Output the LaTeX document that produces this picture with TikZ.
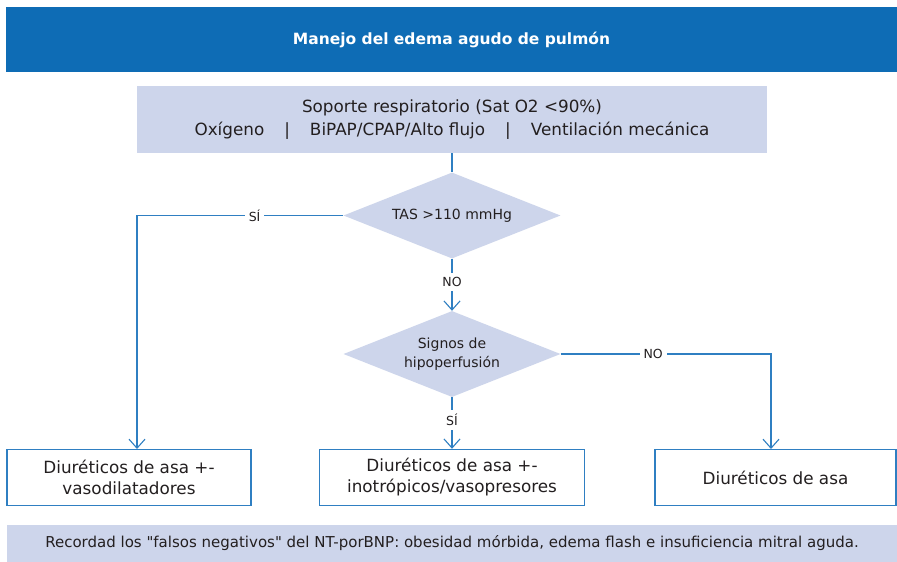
\documentclass[tikz,border=0pt]{standalone}
\usepackage{fontspec}
\setmainfont{DejaVu Sans}[Ligatures=TeXOff]
\usetikzlibrary{shapes.geometric,arrows.meta}
\definecolor{titleblue}{HTML}{0E6CB5}
\definecolor{lav}{HTML}{CDD5EB}
\definecolor{lineblue}{HTML}{2F7FC2}
\definecolor{txt}{HTML}{231F20}
\tikzset{
  titlebox/.style={rectangle, fill=titleblue, text=white, inner sep=0pt, font=\fontsize{15.5}{18}\selectfont\bfseries},
  lavbox/.style={rectangle, fill=lav, text=txt, inner sep=0pt, align=center},
  decision/.style={diamond, aspect=2.52, fill=lav, text=txt, inner sep=0pt, minimum width=217pt, minimum height=86pt, align=center, font=\fontsize{14}{19.5}\selectfont},
  endbox/.style={rectangle, draw=lineblue, line width=1.4pt, fill=white, text=txt, inner sep=0pt, align=center, minimum height=56pt, font=\fontsize{16.8}{21}\selectfont},
  conn/.style={draw=lineblue, line width=1.3pt},
  arr/.style={conn, -{Straight Barb[length=9pt, width=16pt, line width=1.1pt]}},
  lbl/.style={fill=white, text=txt, inner sep=4pt, font=\fontsize{12.5}{15}\selectfont}
}
\begin{document}
\begin{tikzpicture}[x=1pt, y=-1pt]
\useasboundingbox[fill=white] (0,0) rectangle (897,562);

\node[titlebox, minimum width=891pt, minimum height=65pt] (title) at (451.5,39.5) {Manejo del edema agudo de pulmón};

\node[lavbox, minimum width=630pt, minimum height=67pt, font=\fontsize{16.8}{23}\selectfont] (resp) at (452,119.5)
  {Soporte respiratorio (Sat O2 <90\%)\\Oxígeno\hspace{20pt}|\hspace{20pt}BiPAP/CPAP/Alto flujo\hspace{20pt}|\hspace{20pt}Ventilación mecánica};

\node[decision] (d1) at (452,215.5) {TAS >110 mmHg};
\node[decision] (d2) at (452,354) {Signos de\\hipoperfusión};

\node[endbox, minimum width=244pt] (left) at (129,477.5) {Diuréticos de asa +-\\vasodilatadores};
\node[endbox, minimum width=265pt] (mid) at (452,477.5) {Diuréticos de asa +-\\inotrópicos/vasopresores};
\node[endbox, minimum width=241pt] (right) at (775.5,477.5) {Diuréticos de asa};

\node[lavbox, minimum width=890pt, minimum height=37pt, font=\fontsize{15}{17}\selectfont] (note) at (452,543.5)
  {Recordad los "falsos negativos" del NT-porBNP: obesidad mórbida, edema flash e insuficiencia mitral aguda.};

\coordinate (lefttop) at (137,449);
\coordinate (righttop) at (771,449);

\draw[conn] (resp.south) -- (d1.north);
\draw[arr] (d1.west) -| node[lbl, pos=0.215] {SÍ} (lefttop);
\draw[arr] (d1.south) -- node[lbl, pos=0.45] {NO} (d2.north);
\draw[arr] (d2.south) -- node[lbl, pos=0.44] {SÍ} (mid.north);
\draw[arr] (d2.east) -| node[lbl, pos=0.22] {NO} (righttop);
\end{tikzpicture}
\end{document}
